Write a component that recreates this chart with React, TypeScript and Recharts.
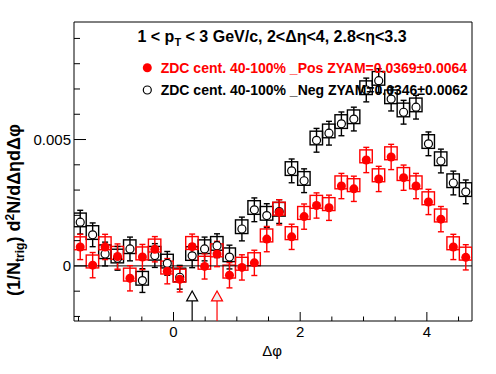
import React from 'react';
import {
  ComposedChart,
  Scatter,
  Bar,
  XAxis,
  YAxis,
  ErrorBar,
  ReferenceLine,
  ReferenceArea,
  ReferenceDot,
} from 'recharts';

// 32 bins over [-pi/2, 3pi/2]
const binWidth = Math.PI / 16;
const binCenters = Array.from({ length: 32 }, (_, i) => -Math.PI / 2 + (i + 0.5) * binWidth);

// values in units of 1e-3
const negValues = [
  1.73, 1.23, 0.47, 0.3, 0.67, -0.58, 0.41, 0.1, -0.45, 0.4, 0.67, 0.8, 0.35, 1.46, 2.22, 1.99,
  2.15, 3.76, 3.37, 4.97, 5.25, 5.62, 5.81, 6.96, 7.33, 6.6, 6.08, 6.28, 4.83, 4.15, 3.28, 2.93,
];
const posValues = [
  0.75, 0.03, 0.75, 0.37, -0.49, 0.35, 0.66, -0.21, -0.53, 0.76, -0.02, 0.47, -0.37, -0.06, 0.12, 1.06,
  2.12, 1.15, 1.95, 2.39, 2.3, 3.16, 3.05, 4.19, 3.44, 4.31, 3.49, 3.16, 2.53, 1.85, 0.75, 0.34,
];

const negStatErr = 0.00047;
const posStatErr = 0.0005;
const negSysUp = 0.00036;
const negSysDown = 0.00018;
const posSysUp = 0.0004;
const posSysDown = 0.00011;

// ZYAM minimum positions
const zyamNegX = 0.2945;
const zyamPosX = 0.6872;

const xMin = -Math.PI / 2;
const xMax = (3 * Math.PI) / 2;
const yMin = -0.00218;
const yMax = 0.00965;
const xTicks = [-1.5, -1, -0.5, 0, 0.5, 1, 1.5, 2, 2.5, 3, 3.5, 4, 4.5];
const xMajor = [0, 2, 4];
const yTicks = [-0.002, -0.001, 0, 0.001, 0.002, 0.003, 0.004, 0.005, 0.006, 0.007, 0.008, 0.009];
const yMajor = [0, 0.005];

const arrowTipY = -0.00099;
const arrowBaseY = -0.00138;

const rows = binCenters.map((x, i) => {
  const neg = negValues[i] / 1000;
  const pos = posValues[i] / 1000;
  return {
    x,
    neg,
    negErr: negStatErr,
    negBox: [neg - negSysDown, neg + negSysUp],
    pos,
    posErr: posStatErr,
    posBox: [pos - posSysDown, pos + posSysUp],
  };
});

const W = 496;
const H = 374;
const margin = { top: 22, right: 24, bottom: 52, left: 73 };
const plotWidth = W - margin.left - 1 - margin.right;
const binPx = (plotWidth * binWidth) / (xMax - xMin);

const font = '"Liberation Sans", Arial, Helvetica, sans-serif';

const XTick = ({ x, y, payload }: any) => {
  const v = payload.value;
  const major = xMajor.some((m) => Math.abs(m - v) < 1e-9);
  return (
    <g>
      <line x1={x} y1={y} x2={x} y2={y - (major ? 9 : 4.5)} stroke="#000" strokeWidth={1} />
      {major && (
        <text x={x} y={y + 16} textAnchor="middle" fontSize={15} fontFamily={font} fill="#000">
          {v}
        </text>
      )}
    </g>
  );
};

const YTick = ({ x, y, payload }: any) => {
  const v = payload.value;
  const major = yMajor.some((m) => Math.abs(m - v) < 1e-9);
  return (
    <g>
      <line x1={x} y1={y} x2={x + (major ? 12 : 6)} y2={y} stroke="#000" strokeWidth={1} />
      {major && (
        <text x={x - 3} y={y + 5.4} textAnchor="end" fontSize={15} fontFamily={font} fill="#000">
          {String(v)}
        </text>
      )}
    </g>
  );
};

// systematic box spanning the full bin, centred on the bar the library placed
const SysBox = (color: string) => (p: any) => {
  const cx = p.x + p.width / 2;
  return (
    <rect
      x={cx - binPx / 2}
      y={p.y}
      width={binPx}
      height={p.height}
      fill="none"
      stroke={color}
      strokeWidth={1.4}
    />
  );
};

const OpenCircle = (p: any) => (
  <circle cx={p.cx} cy={p.cy} r={4} fill="#fff" stroke="#000" strokeWidth={1.2} />
);
const FullCircle = (p: any) => <circle cx={p.cx} cy={p.cy} r={4.5} fill="#ff0000" />;

const Triangle = (color: string, fill: string) => (p: any) => (
  <polygon
    points={`${p.cx},${p.cy} ${p.cx - 5.5},${p.cy + 10} ${p.cx + 5.5},${p.cy + 10}`}
    fill={fill}
    stroke={color}
    strokeWidth={1.2}
  />
);

export default function App() {
  return (
    <div style={{ position: 'absolute', left: 0, top: 0, width: W, height: H, background: '#fff' }}>
      <ComposedChart width={W} height={H} data={rows} margin={margin} barCategoryGap="0%" barGap="0%">
        <XAxis
          dataKey="x"
          type="number"
          domain={[xMin, xMax]}
          ticks={xTicks}
          interval={0}
          allowDataOverflow
          tick={<XTick />}
          tickSize={0}
          tickMargin={0}
          tickLine={false}
          axisLine={false}
          height={1}
        />
        <XAxis xAxisId="pos" dataKey="x" type="number" domain={[xMin, xMax]} allowDataOverflow hide />
        <YAxis
          type="number"
          domain={[yMin, yMax]}
          ticks={yTicks}
          interval={0}
          allowDataOverflow
          tick={<YTick />}
          tickSize={0}
          tickMargin={0}
          tickLine={false}
          axisLine={false}
          width={1}
        />
        <ReferenceLine y={0} stroke="#000" strokeWidth={1} />
        <Bar dataKey="negBox" shape={SysBox('#000')} isAnimationActive={false} />
        <Scatter dataKey="neg" shape={OpenCircle} isAnimationActive={false}>
          <ErrorBar dataKey="negErr" direction="y" width={3} stroke="#000" strokeWidth={1.4} />
        </Scatter>
        <Bar xAxisId="pos" dataKey="posBox" shape={SysBox('#ff0000')} isAnimationActive={false} />
        <Scatter xAxisId="pos" dataKey="pos" shape={FullCircle} isAnimationActive={false}>
          <ErrorBar dataKey="posErr" direction="y" width={3} stroke="#ff0000" strokeWidth={1.4} />
        </Scatter>
        <ReferenceLine
          segment={[
            { x: zyamNegX, y: yMin },
            { x: zyamNegX, y: arrowBaseY },
          ]}
          stroke="#000"
          strokeWidth={1.2}
        />
        <ReferenceLine
          segment={[
            { x: zyamPosX, y: yMin },
            { x: zyamPosX, y: arrowBaseY },
          ]}
          stroke="#ff0000"
          strokeWidth={1.2}
        />
        <ReferenceDot x={zyamNegX} y={arrowTipY} shape={Triangle('#000', '#fff')} />
        <ReferenceDot x={zyamPosX} y={arrowTipY} shape={Triangle('#ff0000', '#eeeeee')} />
        <ReferenceArea x1={xMin} x2={xMax} y1={yMin} y2={yMax} fill="none" stroke="#000" strokeWidth={1} />
      </ComposedChart>
      <svg
        width={W}
        height={H}
        style={{ position: 'absolute', left: 0, top: 0, pointerEvents: 'none' }}
        fontFamily={font}
      >
        <text x={272} y={42} textAnchor="middle" fontSize={16} fontWeight="bold" fill="#000">
          1 &lt; p<tspan dy={4} fontSize={11}>T</tspan>
          <tspan dy={-4}> &lt; 3 GeV/c, 2&lt;Δη&lt;4, 2.8&lt;η&lt;3.3</tspan>
        </text>
        <circle cx={147.3} cy={67.7} r={4.5} fill="#ff0000" />
        <text x={160.7} y={72.7} fontSize={14} fontWeight="bold" fill="#ff0000">
          ZDC cent. 40-100% _Pos ZYAM=0.0369±0.0064
        </text>
        <circle cx={147.3} cy={90} r={4} fill="#fff" stroke="#000" strokeWidth={1.2} />
        <text x={160.7} y={95} fontSize={14} fontWeight="bold" fill="#000">
          ZDC cent. 40-100% _Neg ZYAM=0.0346±0.0062
        </text>
        <text x={272} y={355.5} textAnchor="middle" fontSize={15} fill="#000">
          Δφ
        </text>
        <text
          transform="translate(20,210) rotate(-90)"
          textAnchor="middle"
          fontSize={18}
          fontWeight="bold"
          fill="#000"
        >
          (1/N<tspan dy={4} fontSize={12}>trig</tspan>
          <tspan dy={-4}>) d</tspan>
          <tspan dy={-6} fontSize={12}>2</tspan>
          <tspan dy={6}>N/dΔηdΔφ</tspan>
        </text>
      </svg>
    </div>
  );
}
